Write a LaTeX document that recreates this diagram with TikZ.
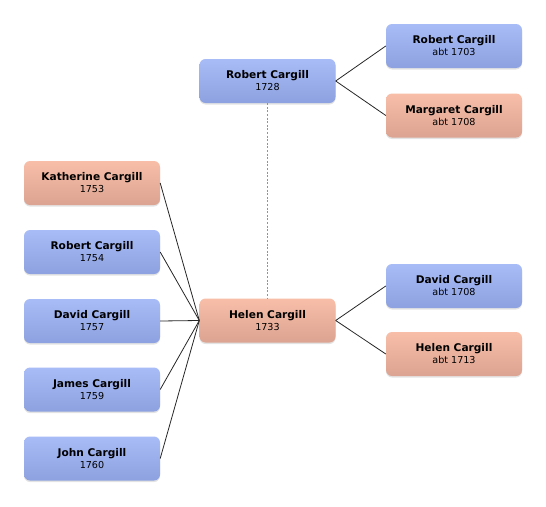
\documentclass[tikz,border=0pt]{standalone}
\usepackage{fontspec}
\setmainfont{DejaVu Sans}
\usetikzlibrary{shadows}
\definecolor{maletop}{RGB}{168,188,247}
\definecolor{malebot}{RGB}{141,161,224}
\definecolor{femtop}{RGB}{248,190,168}
\definecolor{fembot}{RGB}{219,163,145}
\newcommand{\person}[2]{{\fontsize{10.6}{12}\bfseries #1}\\{\fontsize{9.6}{12}\selectfont #2}}

\begin{document}
\begin{tikzpicture}[x=1pt, y=-1pt,
    box/.style={rectangle, rounded corners=6pt, minimum width=136pt, minimum height=44pt, align=center, inner sep=0pt,
        drop shadow={opacity=0.22, shadow xshift=0pt, shadow yshift=-1.5pt}},
    male/.style={box, top color=maletop, bottom color=malebot},
    female/.style={box, top color=femtop, bottom color=fembot},
    link/.style={line width=0.8pt, black!85},
    spouse/.style={line width=1.6pt, gray!85, dash pattern=on 2pt off 1.6pt}]
\useasboundingbox (0,0) rectangle (546,506);
% parents of Helen's husband
\node[male] (rob1703) at (454,46) {\person{Robert Cargill}{abt 1703}};
\node[female] (mar1708) at (454,115.5) {\person{Margaret Cargill}{abt 1708}};
\node[male] (rob1728) at (267.5,81) {\person{Robert Cargill}{1728}};
% Helen and her parents
\node[female] (helen) at (267.5,320.5) {\person{Helen Cargill}{1733}};
\node[male] (dav1708) at (454,286) {\person{David Cargill}{abt 1708}};
\node[female] (hel1713) at (454,354) {\person{Helen Cargill}{abt 1713}};
% children
\node[female] (kat) at (92,183) {\person{Katherine Cargill}{1753}};
\node[male] (rob1754) at (92,252) {\person{Robert Cargill}{1754}};
\node[male] (dav1757) at (92,321) {\person{David Cargill}{1757}};
\node[male] (jam) at (92,389.5) {\person{James Cargill}{1759}};
\node[male] (john) at (92,458.5) {\person{John Cargill}{1760}};
\draw[link] (rob1728.east) -- (rob1703.west);
\draw[link] (rob1728.east) -- (mar1708.west);
\draw[link] (helen.east) -- (dav1708.west);
\draw[link] (helen.east) -- (hel1713.west);
\foreach \c in {kat, rob1754, dav1757, jam, john}
  \draw[link] (\c.east) -- (helen.west);
\draw[spouse] (rob1728) -- (helen);
\end{tikzpicture}
\end{document}
